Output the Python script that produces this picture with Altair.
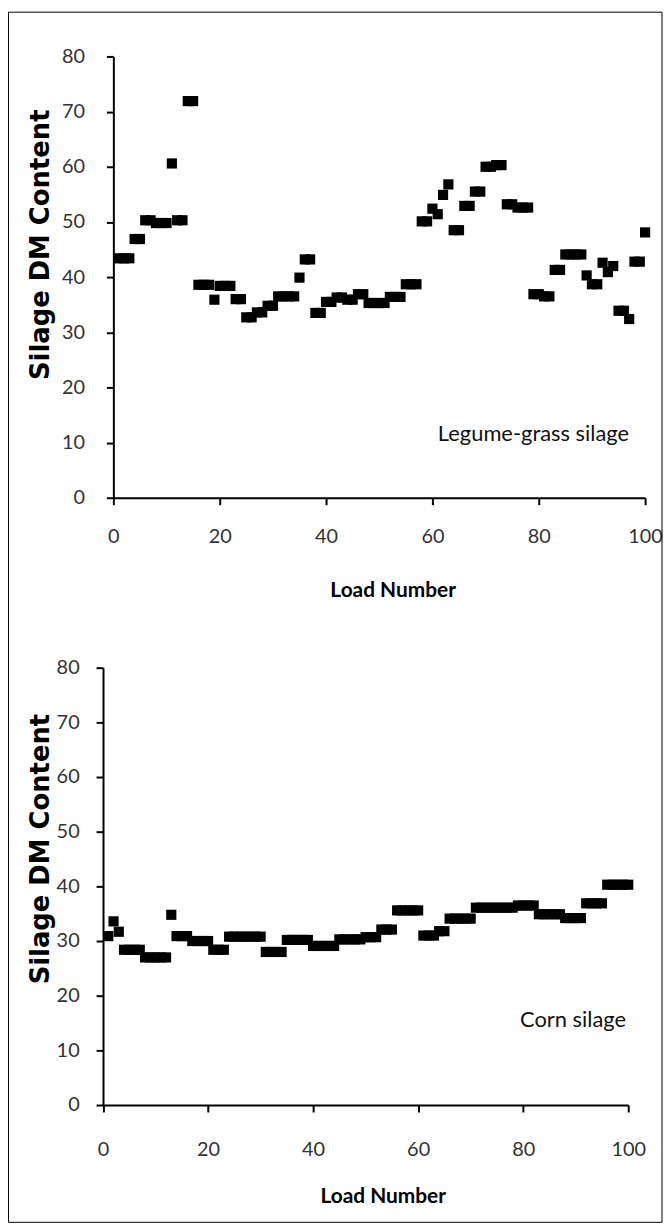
import altair as alt
import pandas as pd

# ---------------- data ----------------
load_top = list(range(1, 101))
dm_top = [43.4, 43.4, 43.4, 46.9, 46.9, 50.3, 50.3, 49.8, 49.8, 49.8,
          60.6, 50.3, 50.3, 71.9, 71.9, 38.6, 38.6, 38.6, 35.9, 38.4,
          38.4, 38.4, 36.0, 36.0, 32.7, 32.7, 33.6, 33.6, 34.8, 34.8,
          36.5, 36.5, 36.5, 36.5, 39.9, 43.2, 43.2, 33.5, 33.5, 35.5,
          35.5, 36.3, 36.3, 35.9, 35.9, 36.9, 36.9, 35.3, 35.3, 35.3,
          35.3, 36.4, 36.4, 36.4, 38.7, 38.7, 38.7, 50.1, 50.1, 52.4,
          51.4, 54.9, 56.8, 48.5, 48.5, 52.9, 52.9, 55.5, 55.5, 60.0,
          60.0, 60.3, 60.3, 53.2, 53.2, 52.6, 52.6, 52.6, 36.9, 36.9,
          36.5, 36.5, 41.3, 41.3, 44.1, 44.1, 44.1, 44.1, 40.3, 38.7,
          38.7, 42.6, 40.9, 42.0, 33.9, 33.9, 32.4, 42.8, 42.8, 48.1]

load_bottom = list(range(1, 101))
dm_bottom = [30.9, 33.6, 31.7, 28.4, 28.4, 28.4, 28.4, 27.0, 27.0, 27.0,
             27.0, 27.0, 34.8, 30.9, 30.9, 30.9, 30.0, 30.0, 30.0, 30.0,
             28.4, 28.4, 28.4, 30.8, 30.8, 30.8, 30.8, 30.8, 30.8, 30.8,
             28.0, 28.0, 28.0, 28.0, 30.2, 30.2, 30.2, 30.2, 30.2, 29.1,
             29.1, 29.1, 29.1, 29.1, 30.3, 30.3, 30.3, 30.3, 30.3, 30.7,
             30.7, 30.7, 32.1, 32.1, 32.1, 35.6, 35.6, 35.6, 35.6, 35.6,
             31.0, 31.0, 31.0, 31.8, 31.8, 34.1, 34.1, 34.1, 34.1, 34.1,
             36.1, 36.1, 36.1, 36.1, 36.1, 36.1, 36.1, 36.1, 36.5, 36.5,
             36.5, 36.5, 34.9, 34.9, 34.9, 34.9, 34.9, 34.2, 34.2, 34.2,
             34.2, 36.9, 36.9, 36.9, 36.9, 40.3, 40.3, 40.3, 40.3, 40.3]

x_ticks = [0, 20, 40, 60, 80, 100]
y_ticks = [0, 10, 20, 30, 40, 50, 60, 70, 80]
panel_labels = ["Legume-grass silage", "Corn silage"]
label_x = [79, 89.5]
label_y = [11.5, 15.5]
x_title = "Load Number"
y_title = "Silage DM Content"

FONT = "Lato"
WIDE = "DejaVu Sans, Lato"


def make_panel(loads, dms, label, lx, ly, width, height, x_extra, y_axis_offset,
               ylab_pad, xlab_pad, ytitle_x, ytitle_y, xtitle_x, xtitle_y, frame=False):
    df = pd.DataFrame({"load": loads, "dm": dms})
    xs = dict(domain=[0, 100], nice=False, zero=False)
    xs.update(x_extra)
    x_axis = alt.Axis(values=x_ticks, title=x_title, grid=False,
                      domainColor="black", domainWidth=2,
                      tickColor="black", tickWidth=2, tickSize=7,
                      labelFont=FONT, labelFontSize=20, labelColor="#333333",
                      labelPadding=xlab_pad, labelFlush=False,
                      titleFont=FONT, titleFontSize=21, titleFontWeight="bold",
                      titleColor="black", titleX=xtitle_x, titleY=xtitle_y,
                      titleAlign="center", titleBaseline="middle")
    y_axis = alt.Axis(values=y_ticks, title=y_title, grid=False,
                      domainColor="black", domainWidth=2,
                      tickColor="black", tickWidth=2, tickSize=7,
                      labelFont=FONT, labelFontSize=20, labelColor="#333333",
                      labelPadding=ylab_pad, offset=y_axis_offset,
                      titleFont=WIDE, titleFontSize=26, titleFontWeight="bold",
                      titleColor="black", titleAngle=270, titleX=ytitle_x,
                      titleY=ytitle_y, titleAlign="center",
                      titleBaseline="middle")
    pts = alt.Chart(df).mark_square(size=105, color="black", opacity=1).encode(
        x=alt.X("load:Q", scale=alt.Scale(**xs), axis=x_axis),
        y=alt.Y("dm:Q", scale=alt.Scale(domain=[0, 80], nice=False), axis=y_axis),
    )
    lab_df = pd.DataFrame({"x": [lx], "y": [ly], "t": [label]})
    txt = alt.Chart(lab_df).mark_text(font=FONT, fontSize=22, color="#111111",
                                      align="center", baseline="middle").encode(
        x=alt.X("x:Q", scale=alt.Scale(**xs)),
        y=alt.Y("y:Q", scale=alt.Scale(domain=[0, 80], nice=False)),
        text="t:N",
    )
    layers = [pts, txt]
    if frame:
        L, T, R, B = -105.5, -44.5, 552, 1173
        fr = dict(color="black", strokeWidth=1)
        layers += [
            alt.Chart(lab_df).mark_rule(**fr).encode(x=alt.value(L), y=alt.value(T), y2=alt.value(B)),
            alt.Chart(lab_df).mark_rule(**fr).encode(x=alt.value(R), y=alt.value(T), y2=alt.value(B)),
            alt.Chart(lab_df).mark_rule(**fr).encode(y=alt.value(T), x=alt.value(L), x2=alt.value(R)),
            alt.Chart(lab_df).mark_rule(**fr).encode(y=alt.value(B), x=alt.value(L), x2=alt.value(R)),
        ]
    return alt.layer(*layers).properties(width=width, height=height)


top = make_panel(load_top, dm_top, panel_labels[0], label_x[0], label_y[0],
                 535, 444, {}, 0, 22, 22, -73, 189, 281, 93, frame=True)
bottom = make_panel(load_bottom, dm_bottom, panel_labels[1], label_x[1], label_y[1],
                    518, 440, {"range": [-10.4, 518]}, 10.4, 17, 28, -62.6, 182, 271, 92)

chart = alt.concat(top, bottom, columns=1, bounds="flush", spacing=171).properties(
    padding=0, background="white"
).configure_view(stroke=None)

chart.save("out.html", embed_options={"renderer": "svg", "actions": False})
